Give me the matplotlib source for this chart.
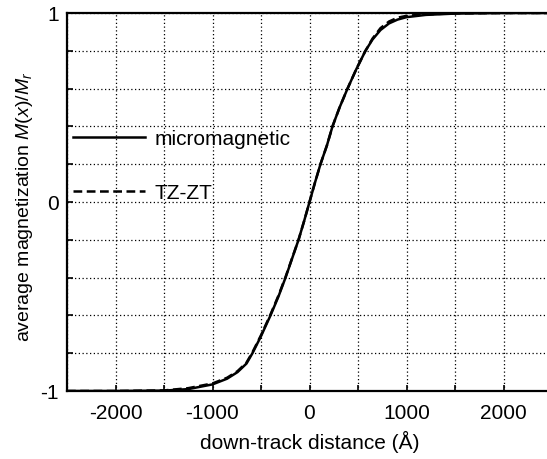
import matplotlib
matplotlib.use("Agg")
import matplotlib.pyplot as plt
from matplotlib.ticker import MultipleLocator, FixedLocator

plt.rcParams['font.family'] = ['Liberation Sans', 'DejaVu Sans']
plt.rcParams['mathtext.fontset'] = 'custom'
plt.rcParams['mathtext.it'] = 'Liberation Sans:italic'
plt.rcParams['mathtext.rm'] = 'Liberation Sans'

# data
x_micro = [-2500, -2000, -1500, -1250, -1000, -850, -742, -650, -588, -500, -402, -320, -247, -180, -113, -55, 0,
           55, 113, 180, 237, 310, 392, 480, 577, 650, 732, 820, 907, 1000, 1200, 1500, 2000, 2500]
m_micro = [-1.0, -1.0, -0.998, -0.99, -0.965, -0.935, -0.9, -0.855, -0.8, -0.71, -0.6, -0.5, -0.4, -0.3, -0.2, -0.1, 0.0,
           0.1, 0.2, 0.3, 0.4, 0.5, 0.6, 0.7, 0.8, 0.86, 0.91, 0.945, 0.965, 0.978, 0.99, 0.997, 1.0, 1.0]

x_tz = [-2500, -2000, -1500, -1250, -1000, -850, -742, -650, -588, -500, -402, -320, -247, -180, -113, -55, 0,
        55, 113, 180, 237, 310, 392, 480, 577, 650, 732, 820, 907, 1000, 1200, 1500, 2000, 2500]
m_tz = [-1.0, -1.0, -0.997, -0.985, -0.96, -0.93, -0.895, -0.85, -0.795, -0.705, -0.595, -0.495, -0.397, -0.298, -0.2, -0.1, 0.0,
        0.1, 0.2, 0.3, 0.4, 0.5, 0.6, 0.7, 0.8, 0.865, 0.92, 0.955, 0.975, 0.985, 0.993, 0.998, 1.0, 1.0]

labels = ['micromagnetic', 'TZ-ZT']
xticks = [-2000, -1000, 0, 1000, 2000]
yticks = [-1, 0, 1]

FS = 15

fig = plt.figure(figsize=(5.47, 4.60), dpi=100)
ax = fig.add_axes([67/547, 1-392/460, 485/547, 378/460])

ax.plot(x_micro, m_micro, color='black', lw=1.8, label=labels[0])
ax.plot(x_tz, m_tz, color='black', lw=1.8, ls=(0, (3.5, 1.8)), label=labels[1])

ax.set_xlim(-2500, 2500)
ax.set_ylim(-1, 1)
ax.xaxis.set_major_locator(FixedLocator(xticks))
ax.yaxis.set_major_locator(FixedLocator(yticks))
ax.xaxis.set_minor_locator(MultipleLocator(500))
ax.yaxis.set_minor_locator(MultipleLocator(0.2))
ax.set_yticklabels(['-1', '0', '1'])
ax.set_xticklabels([str(v) for v in xticks])
ax.grid(True, which='both', color='black', ls=(0, (1, 2)), lw=0.9)
ax.tick_params(which='both', direction='in', length=4, width=1.2, labelsize=FS)
ax.tick_params(axis='x', pad=9)
ax.tick_params(axis='y', pad=6)
for s in ax.spines.values():
    s.set_linewidth(1.6)

ax.set_xlabel('down-track distance (Å)', fontsize=FS, labelpad=5)
ax.set_ylabel('average magnetization $M(x)/M_r$', fontsize=14)
ax.yaxis.set_label_coords(-0.067, 0.49)

leg = ax.legend(loc='upper left', bbox_to_anchor=(-0.005, 0.715), frameon=False,
                fontsize=FS, handlelength=3.45, handletextpad=0.48, labelspacing=1.7,
                borderaxespad=0)

fig.savefig('out.png', dpi=100)
